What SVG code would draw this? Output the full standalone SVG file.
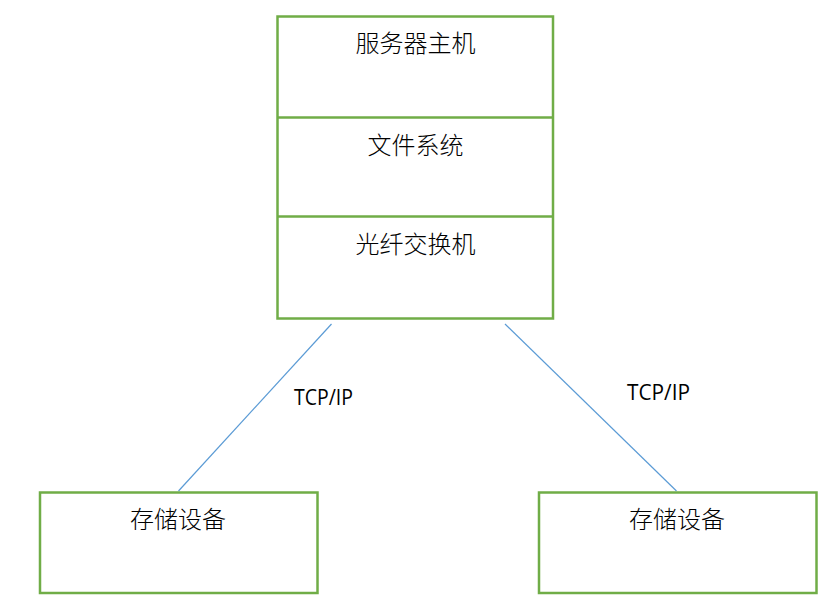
<svg xmlns="http://www.w3.org/2000/svg" width="830" height="603" viewBox="0 0 830 603">
<style>
.box{fill:#fff;stroke:#70AD47;stroke-width:2.5}
.sep{stroke:#70AD47;stroke-width:2.5}
.conn{stroke:#5B9BD5;stroke-width:1.2;fill:none}
.cjk{font-family:"Noto Sans CJK SC","Noto Sans",sans-serif;font-size:24px;font-weight:300;fill:#000;text-anchor:middle}
.lbl{font-family:"Open Sans","Liberation Sans",sans-serif;font-size:21px;fill:#000}
</style>
<rect width="830" height="603" fill="#fff"/>
<g id="connectors">
<line class="conn" x1="331.5" y1="324" x2="178.5" y2="491"/>
<line class="conn" x1="505" y1="324" x2="676.5" y2="491"/>
<text class="lbl" x="294" y="405" textLength="59" lengthAdjust="spacingAndGlyphs">TCP/IP</text>
<text class="lbl" x="627" y="400" textLength="63" lengthAdjust="spacingAndGlyphs">TCP/IP</text>
</g>
<g id="server">
<rect class="box" x="277.5" y="16.5" width="275.5" height="302"/>
<line class="sep" x1="277.5" y1="117.5" x2="553" y2="117.5"/>
<line class="sep" x1="277.5" y1="216.5" x2="553" y2="216.5"/>
<text class="cjk" x="415.5" y="52">服务器主机</text>
<text class="cjk" x="415.5" y="154">文件系统</text>
<text class="cjk" x="415.5" y="253">光纤交换机</text>
</g>
<g id="storage1">
<rect class="box" x="40" y="492.5" width="277.5" height="100.5"/>
<text class="cjk" x="178" y="528">存储设备</text>
</g>
<g id="storage2">
<rect class="box" x="539" y="492.5" width="277.5" height="100.5"/>
<text class="cjk" x="677" y="528">存储设备</text>
</g>
</svg>
